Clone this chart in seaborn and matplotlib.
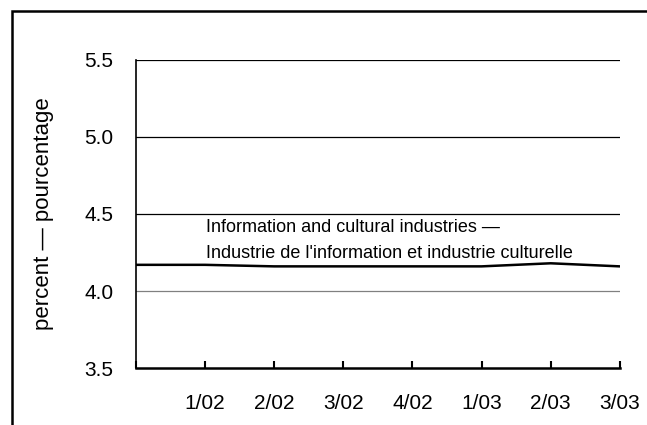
import numpy as np
import pandas as pd
import matplotlib
matplotlib.use("Agg")
import matplotlib.pyplot as plt
import seaborn as sns
from matplotlib.patches import Rectangle

# quarter positions; the first point (4/01) sits on the y axis with no label
quarters = ["4/01", "1/02", "2/02", "3/02", "4/02", "1/03", "2/03", "3/03"]
tick_labels = ["", "1/02", "2/02", "3/02", "4/02", "1/03", "2/03", "3/03"]
rate = [4.17, 4.17, 4.16, 4.16, 4.16, 4.16, 4.18, 4.16]
y_ticks = [3.5, 4.0, 4.5, 5.0, 5.5]

sns.set_style("white", {"text.color": "black", "axes.labelcolor": "black",
                        "xtick.color": "black", "ytick.color": "black"})
plt.rcParams['font.family'] = ['Liberation Sans', 'DejaVu Sans']

df = pd.DataFrame({"pos": np.arange(len(quarters)), "rate": rate})

fig = plt.figure(figsize=(6.47, 4.25), dpi=100)
ax = fig.add_axes([0.210, 0.134, 0.748, 0.725])

# outer frame (open at right and bottom, as in the clipped original)
fig.patches.append(Rectangle((11.5 / 647, -0.2), 1.2, 1.2 - 10.5 / 425,
                             transform=fig.transFigure, fill=False,
                             edgecolor="black", linewidth=1.8, clip_on=False))

for v in y_ticks[1:]:
    ax.axhline(v, color="#808080" if v == 4.0 else "black", lw=0.9, zorder=1)

sns.lineplot(data=df, x="pos", y="rate", ax=ax, color="black", lw=1.8, zorder=3)

ax.set_xlim(0, len(quarters) - 1)
ax.set_ylim(3.5, 5.5)
ax.set_xticks(df["pos"])
ax.set_xticklabels(tick_labels)
ax.set_yticks(y_ticks)
ax.set_yticklabels([f"{v:.1f}" for v in y_ticks])
ax.tick_params(axis="x", bottom=True, direction="in", length=5, width=1.5,
               pad=19, labelsize=15, color="black", labelcolor="black")
ax.tick_params(axis="y", left=False, length=0, pad=16, labelsize=15,
               labelcolor="black")

ax.set_xlabel("")
ax.set_ylabel("percent \u2014 pourcentage", fontsize=16, color="black")
ax.yaxis.set_label_coords(-0.17, 0.5)

for side in ["top", "right"]:
    ax.spines[side].set_visible(False)
ax.spines["left"].set_color("black")
ax.spines["left"].set_linewidth(1.2)
ax.spines["bottom"].set_color("black")
ax.spines["bottom"].set_linewidth(1.8)

ax.text(1.02, 4.415, "Information and cultural industries \u2014",
        fontsize=13, va="center", ha="left", color="black")
ax.text(1.02, 4.245, "Industrie de l'information et industrie culturelle",
        fontsize=13, va="center", ha="left", color="black")

plt.savefig("out.png", dpi=100)
